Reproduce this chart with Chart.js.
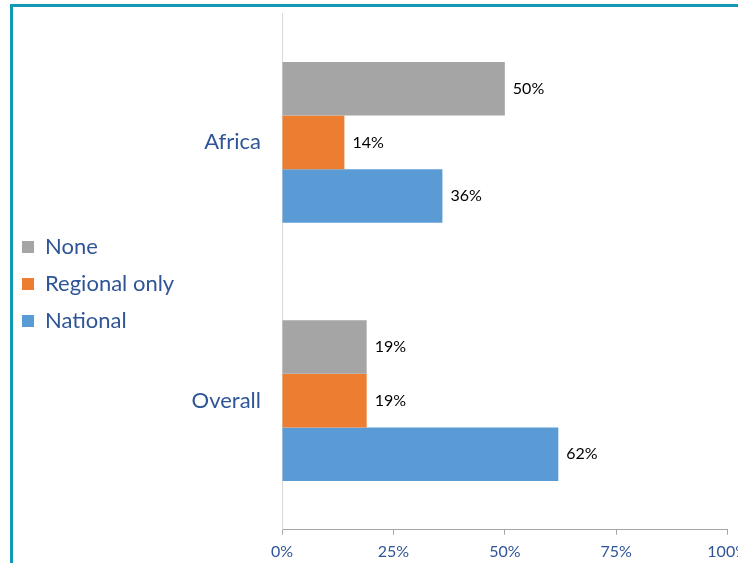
<!DOCTYPE html>
<html>
<head>
<meta charset="utf-8">
<script src="https://cdn.jsdelivr.net/npm/chart.js@4.4.1/dist/chart.umd.min.js"></script>
<style>
  html, body { margin: 0; padding: 0; background: #fff; overflow: hidden; }
  #wrap { width: 738px; height: 563px; overflow: hidden; position: relative; }
  #chart { position: absolute; left: 0; top: 0; }
</style>
</head>
<body>
<div id="wrap"><canvas id="chart" width="755" height="563"></canvas></div>
<script>
const regions = ['Africa', 'Overall'];
const seriesNames = ['None', 'Regional only', 'National'];
const noneValues = [50, 19];
const regionalValues = [14, 19];
const nationalValues = [36, 62];
const xTicks = [0, 25, 50, 75, 100];

const blueText = '#2F5597';

// teal frame around the chart
const framePlugin = {
  id: 'frame',
  beforeDraw(chart) {
    const c = chart.ctx;
    c.save();
    c.fillStyle = '#fff';
    c.fillRect(0, 0, chart.width, chart.height);
    c.fillStyle = '#1199B5';
    c.fillRect(10, 4, chart.width - 10, 3);
    c.fillRect(10, 4, 3, chart.height - 4);
    c.restore();
  }
};

// value labels at the end of each bar
const valueLabels = {
  id: 'valueLabels',
  afterDatasetsDraw(chart) {
    const c = chart.ctx;
    c.save();
    c.font = '16px Lato';
    c.fillStyle = '#000';
    c.textBaseline = 'middle';
    c.textAlign = 'left';
    chart.data.datasets.forEach((ds, i) => {
      chart.getDatasetMeta(i).data.forEach((bar, j) => {
        c.fillText(ds.data[j] + '%', bar.x + 8, bar.y);
      });
    });
    c.restore();
  }
};

new Chart(document.getElementById('chart'), {
  type: 'bar',
  data: {
    labels: regions,
    datasets: [
      { label: seriesNames[0], data: noneValues, backgroundColor: '#A5A5A5' },
      { label: seriesNames[1], data: regionalValues, backgroundColor: '#ED7D31' },
      { label: seriesNames[2], data: nationalValues, backgroundColor: '#5B9BD5' }
    ]
  },
  options: {
    indexAxis: 'y',
    responsive: false,
    animation: false,
    categoryPercentage: 0.622,
    barPercentage: 1,
    layout: { padding: { top: 0, left: 7, right: 0, bottom: -5 } },
    scales: {
      x: {
        min: 0,
        max: 100,
        afterBuildTicks: (s) => { s.ticks = xTicks.map(v => ({ value: v })); },
        grid: { drawOnChartArea: false, tickLength: 5, color: '#A6A6A6' },
        border: { color: '#A6A6A6' },
        ticks: {
          color: blueText,
          font: { family: 'Lato', size: 16 },
          padding: 7,
          callback: (v) => v + '%'
        }
      },
      y: {
        afterFit: (s) => {
          const lw = s.chart.legend ? s.chart.legend.width : 150;
          s.width = 275 - lw;
        },
        grid: { display: true, drawOnChartArea: false, drawTicks: true, tickLength: 21, color: 'rgba(0,0,0,0)' },
        border: { color: '#D9D9D9' },
        ticks: {
          color: blueText,
          font: { family: 'Lato', size: 22 },
          padding: 0
        }
      }
    },
    plugins: {
      legend: {
        position: 'left',
        labels: {
          boxWidth: 12,
          boxHeight: 12,
          padding: 15,
          color: blueText,
          font: { family: 'Lato', size: 22 }
        }
      },
      tooltip: { enabled: false }
    }
  },
  plugins: [framePlugin, valueLabels]
});
</script>
</body>
</html>
